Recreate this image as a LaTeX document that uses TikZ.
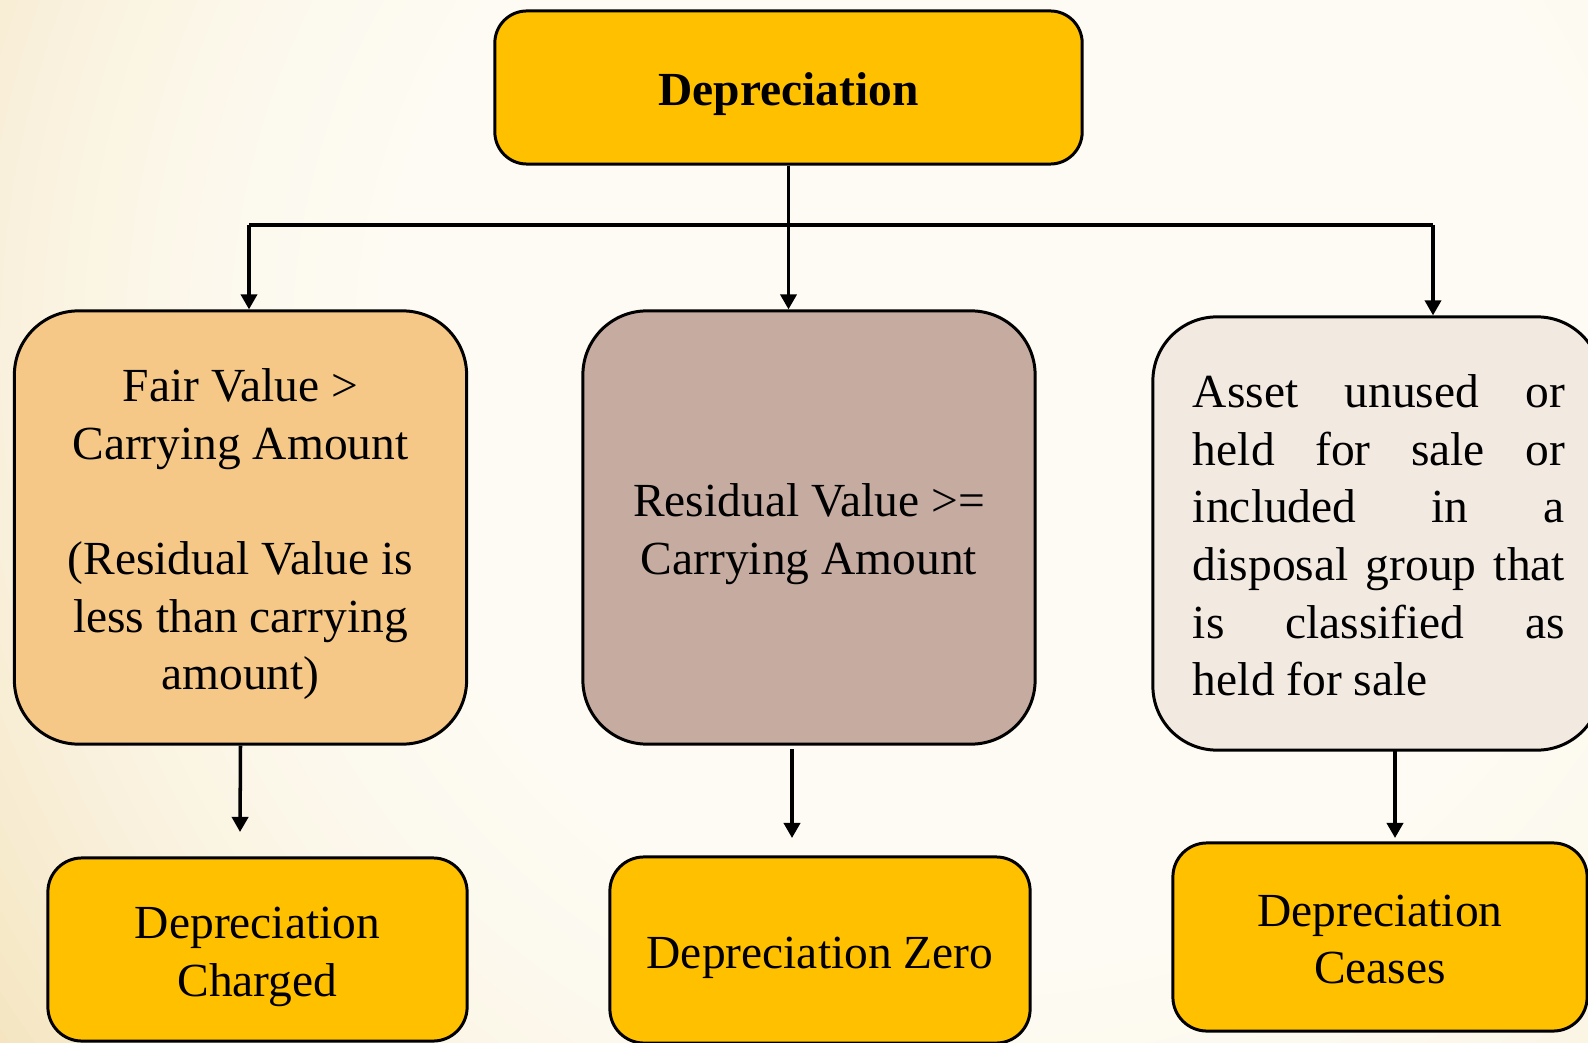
\documentclass[tikz,border=0pt]{standalone}
\usepackage{fontspec}
\setmainfont{Liberation Serif}
\usetikzlibrary{arrows.meta}

\definecolor{gold}{HTML}{FFC000}
\definecolor{peach}{HTML}{F5C887}
\definecolor{taupe}{HTML}{C5ABA0}
\definecolor{linen}{HTML}{F2E9E1}
\definecolor{glowc}{HTML}{FDFBF3}
\definecolor{edgec}{HTML}{F4E3BC}

\newcommand{\jline}[1]{\makebox[105.8pt][s]{#1}}
% fixed first-line height and last-line depth, so every box sets its text alike
\newcommand{\toprule}{\rule{0pt}{13.3pt}}
\newcommand{\botrule}{\rule[-3pt]{0pt}{0pt}}

\tikzset{
  box/.style={draw=black, line width=0.85pt, rectangle, inner sep=0pt, align=center,
    font=\fontsize{13.5}{16.4}\selectfont, execute at end node=\botrule},
  headbox/.style={box, fill=gold, rounded corners=0.32cm,
    minimum width=5.87cm, minimum height=1.53cm,
    font=\fontsize{13.5}{16.4}\selectfont\bfseries},
  condbox/.style={box, rounded corners=0.64cm, minimum width=4.52cm, minimum height=4.33cm},
  resbox/.style={box, fill=gold, rounded corners=0.34cm},
  conn/.style={line width=1pt, draw=black},
  arrow/.style={conn, -{Triangle[width=4.6pt, length=4.3pt]}},
}

\begin{document}
\begin{tikzpicture}[x=0.01cm, y=-0.01cm]
  \useasboundingbox (0,0) rectangle (1588,1043);
  % warm paper background: light glow in the upper right, warmer towards the lower left
  \begin{scope}
    \clip (0,0) rectangle (1588,1043);
    \fill[edgec] (0,0) rectangle (1588,1043);
    \foreach \i in {0,...,59}{
      \pgfmathsetmacro{\f}{1-\i/60}
      \pgfmathsetmacro{\g}{max(0,(\f-0.45)/0.55)}
      \pgfmathsetmacro{\w}{100*\g*\g}
      \fill[edgec!\w!glowc] (1000,350) circle [radius=1250*\f];
    }
  \end{scope}

  % header
  \node[headbox] (head) at (788.5,87.5) {\toprule Depreciation};

  % conditions
  \node[condbox, fill=peach] (fair) at (240.5,527.5)
    {\toprule Fair Value >\\Carrying Amount\\[16.4pt](Residual Value is\\less than carrying\\amount)};
  \node[condbox, fill=taupe] (resid) at (809,527.5)
    {\toprule Residual Value >=\\Carrying Amount};
  \node[condbox, fill=linen, minimum width=4.48cm] (unused) at (1377,533.5) {};
  \node[align=left, inner sep=0pt, font=\fontsize{13.5}{16.4}\selectfont] (unusedtxt) at (1379,535.5)
    {\jline{Asset unused or}\\\jline{held for sale or}\\\jline{included in a}\\%
     \jline{disposal group that}\\\jline{is classified as}\\held for sale};

  % outcomes
  \node[resbox, minimum width=4.19cm, minimum height=1.83cm] (charged) at (257.5,949.5)
    {\toprule Depreciation\\Charged};
  \node[resbox, minimum width=4.20cm, minimum height=1.86cm] (zero) at (820,950)
    {\toprule Depreciation Zero};
  \node[resbox, minimum width=4.14cm, minimum height=1.88cm] (ceases) at (1380,937)
    {\toprule Depreciation\\Ceases};

  % branching connectors
  \coordinate (hubL) at (249,225);
  \coordinate (hubR) at (1433,225);
  \draw[conn] (hubL) -- (hubR);
  \draw[arrow] (head.south) -- (head.south |- resid.north);
  \draw[arrow] (hubL) -- (hubL |- fair.north);
  \draw[arrow] (hubR) -- (hubR |- unused.north);

  % lower arrows
  \coordinate (endL) at (240,832);
  \coordinate (startM) at (792,749);
  \coordinate (endM) at (792,838);
  \coordinate (startR) at (1395,750);
  \coordinate (endR) at (1395,838);
  \draw[arrow] (fair.south) -- (endL);
  \draw[arrow] (startM) -- (endM);
  \draw[arrow] (startR) -- (endR);
\end{tikzpicture}
\end{document}
